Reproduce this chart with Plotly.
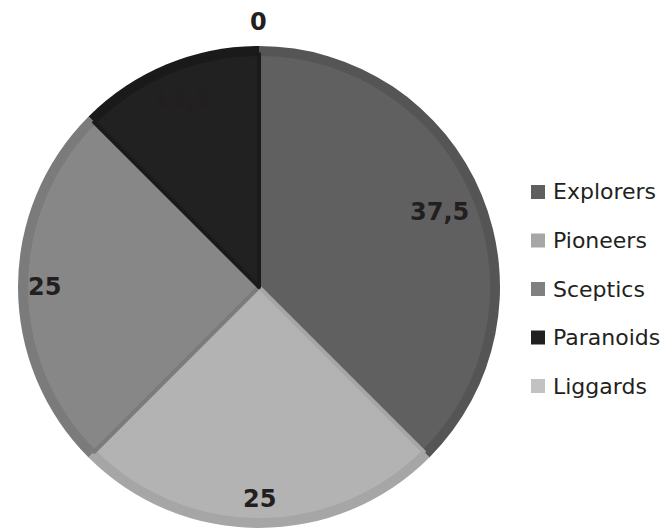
import math
import plotly.graph_objects as go

categories = ["Explorers", "Pioneers", "Sceptics", "Paranoids", "Liggards"]
values = [37.5, 25, 25, 12.5, 0]
fill_colors = ["#606060", "#b3b3b3", "#878787", "#212121", "#c4c4c4"]
edge_colors = ["#555555", "#a6a6a6", "#7b7b7b", "#1a1a1a", "#b8b8b8"]
legend_colors = ["#5f5f5f", "#a6a6a6", "#808080", "#202020", "#c2c2c2"]
label_radius = [0.81, 0.88, 0.89, 0.84, 1.10]

W, H = 665, 530
cx, cy, R = 259, 287, 241
bev = 8

def dom(r):
    return dict(x=[(cx - r) / W, (cx + r) / W], y=[(H - cy - r) / H, (H - cy + r) / H])

line_widths = [4 if v > 0 else 0 for v in values]

fig = go.Figure()
fig.add_trace(go.Pie(labels=categories, values=values, sort=False, direction="clockwise",
                     rotation=0, textinfo="none", hoverinfo="label+value",
                     marker=dict(colors=edge_colors, line=dict(width=0)),
                     domain=dom(R), showlegend=False))
fig.add_trace(go.Pie(labels=categories, values=values, sort=False, direction="clockwise",
                     rotation=0, textinfo="none", hoverinfo="label+value",
                     marker=dict(colors=fill_colors, line=dict(width=line_widths, color=edge_colors)),
                     domain=dom(R - bev), showlegend=False))

total = sum(values)
cum = 0.0
for cat, v, rf in zip(categories, values, label_radius):
    mid = (cum + v / 2) / total * 2 * math.pi
    cum += v
    px = cx + rf * R * math.sin(mid)
    py = cy - rf * R * math.cos(mid)
    txt = f"{v:g}".replace(".", ",")
    fig.add_annotation(x=px / W, y=1 - py / H, xref="paper", yref="paper",
                       text=f"<b>{txt}</b>", showarrow=False,
                       font=dict(family="DejaVu Sans", size=24, color="#231f20"),
                       xanchor="center", yanchor="middle")

# legend
ly0, lstep = 192, 48.5
for i, (cat, col) in enumerate(zip(categories, legend_colors)):
    y = ly0 + i * lstep
    fig.add_shape(type="rect", xref="paper", yref="paper",
                  x0=531 / W, x1=545 / W, y0=1 - (y + 7) / H, y1=1 - (y - 7) / H,
                  fillcolor=col, line=dict(width=0))
    fig.add_annotation(x=551 / W, y=1 - y / H, xref="paper", yref="paper",
                       text=cat, showarrow=False, xanchor="left", yanchor="middle",
                       font=dict(family="DejaVu Sans", size=22, color="#231f20"))

fig.update_layout(width=W, height=H, margin=dict(l=0, r=0, t=0, b=0),
                  paper_bgcolor="white", plot_bgcolor="white", showlegend=False)
fig.write_html("out.html")
